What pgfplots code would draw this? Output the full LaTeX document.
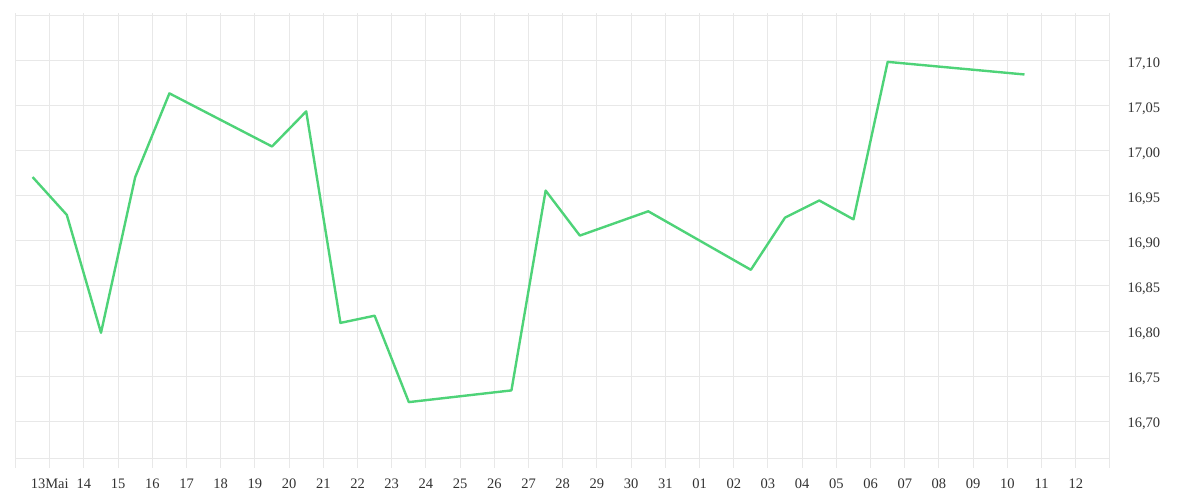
\documentclass[border=0pt]{standalone}
\usepackage{fontspec}
\setmainfont{Liberation Serif}
\usepackage{pgfplots}
\pgfplotsset{compat=1.18}

\definecolor{linegreen}{RGB}{78,211,120}
\definecolor{gridgrey}{RGB}{232,232,232}
\definecolor{labelgrey}{RGB}{50,50,50}

\begin{document}
\begin{tikzpicture}[x=1pt,y=1pt]
\path[use as bounding box] (0,0) rectangle (1200,500);
\begin{axis}[
    at={(15.5pt,41pt)}, anchor=south west,
    scale only axis,
    width=1094.5pt, height=446pt,
    xmin=0, xmax=32,
    ymin=16.6578, ymax=17.1533,
    axis line style={draw=none},
    grid=major,
    major grid style={gridgrey, line width=1pt},
    xtick={1,...,31},
    xticklabels={13Mai,14,15,16,17,18,19,20,21,22,23,24,25,26,27,28,29,30,31,01,02,03,04,05,06,07,08,09,10,11,12},
    extra x ticks={0,32},
    extra x tick labels={},
    extra x tick style={grid=major},
    xtick pos=lower,
    tick align=outside,
    major tick length=9pt,
    x tick style={gridgrey, line width=1pt},
    ytick={16.70,16.75,...,17.11},
    extra y ticks={16.6578,17.15},
    extra y tick labels={},
    extra y tick style={grid=major},
    ytick style={draw=none},
    yticklabel pos=right,
    every tick label/.append style={font=\fontsize{14.5}{16}\selectfont, text=labelgrey},
    xticklabel style={yshift=-7pt},
    yticklabel style={xshift=5pt, yshift=-3pt, anchor=west},
    /pgf/number format/.cd, use comma, fixed, fixed zerofill, precision=2, assume math mode=true,
]
\addplot[linegreen, line width=2.4pt, line join=round] coordinates {
    (0.5,16.971) (1.5,16.929) (2.5,16.798) (3.5,16.971) (4.5,17.064)
    (7.5,17.005) (8.5,17.044) (9.5,16.809) (10.5,16.817) (11.5,16.721)
    (14.5,16.734) (15.5,16.956) (16.5,16.906) (18.5,16.933) (21.5,16.868)
    (22.5,16.926) (23.5,16.945) (24.5,16.924) (25.5,17.099) (29.5,17.085)
};
\end{axis}
\end{tikzpicture}
\end{document}
